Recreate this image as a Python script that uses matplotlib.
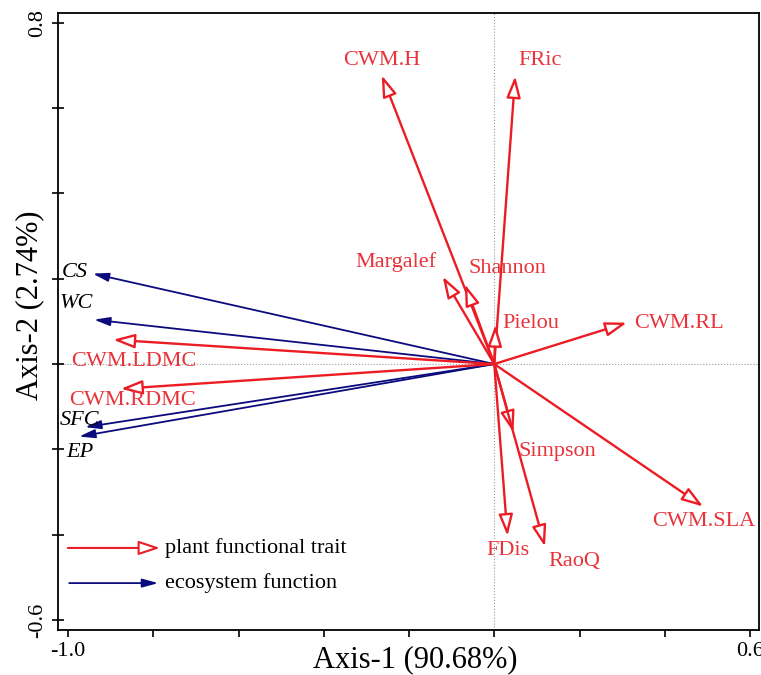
import matplotlib
matplotlib.use("Agg")
import matplotlib.pyplot as plt
import numpy as np

plt.rcParams["font.family"] = ["Liberation Serif", "DejaVu Serif"]

# RDA biplot scores
#-------------------------------------------------------------------
trait_names = ["CWM.H", "FRic", "Margalef", "Shannon", "Pielou", "CWM.RL",
               "CWM.LDMC", "CWM.RDMC", "Simpson", "FDis", "RaoQ", "CWM.SLA"]
trait_x = [-0.264, 0.049, -0.121, -0.069, 0.003, 0.311,
           -0.894, -0.876, 0.045, 0.031, 0.119, 0.490]
trait_y = [0.677, 0.675, 0.205, 0.187, 0.092, 0.097,
           0.057, -0.058, -0.160, -0.403, -0.428, -0.334]

func_names = ["CS", "WC", "SFC", "EP"]
func_x = [-0.942, -0.939, -0.960, -0.974]
func_y = [0.212, 0.104, -0.148, -0.170]

# label placement (data coords)
trait_label_pos = {
    "CWM.H": (-0.264, 0.712), "FRic": (0.107, 0.712), "Margalef": (-0.231, 0.240),
    "Shannon": (0.032, 0.224), "Pielou": (0.086, 0.096), "CWM.RL": (0.433, 0.096),
    "CWM.LDMC": (-0.846, 0.007), "CWM.RDMC": (-0.849, -0.086), "Simpson": (0.149, -0.205),
    "FDis": (0.032, -0.437), "RaoQ": (0.187, -0.463), "CWM.SLA": (0.492, -0.370),
}
func_label_pos = {
    "CS": (-0.984, 0.215), "WC": (-0.981, 0.142), "SFC": (-0.972, -0.133), "EP": (-0.972, -0.207),
}
#-------------------------------------------------------------------

RED = "#ec1c24"
RED_TXT = "#e8333a"
BLUE = "#0b0b7e"

fig = plt.figure(figsize=(7.61, 6.75), dpi=100)
ax = fig.add_axes([58/761, 1-630/675, 701/761, 617/675])

ax.set_xlim(-1.0235, 0.621)
ax.set_ylim(-0.6235, 0.823)

ax.axhline(0, color="#9a9a9a", lw=0.8, ls=":", zorder=0)
ax.axvline(0, color="#9a9a9a", lw=0.8, ls=":", zorder=0)

red_style = "-|>,head_length=13,head_width=4.3"
blue_style = "-|>,head_length=9.5,head_width=2.6"

for x, y in zip(func_x, func_y):
    ax.annotate("", xy=(x, y), xytext=(0, 0),
                arrowprops=dict(arrowstyle=blue_style, mutation_scale=1, color=BLUE,
                                lw=1.3, shrinkA=0, shrinkB=0))

for x, y in zip(trait_x, trait_y):
    ax.annotate("", xy=(x, y), xytext=(0, 0),
                arrowprops=dict(arrowstyle=red_style, mutation_scale=1, fc="white", ec=RED,
                                lw=1.7, shrinkA=0, shrinkB=0))

for name in trait_names:
    lx, ly = trait_label_pos[name]
    ax.text(lx, ly, name, color=RED_TXT, fontsize=16, ha="center", va="center")

for name in func_names:
    lx, ly = func_label_pos[name]
    ax.text(lx, ly, name, color="black", fontsize=16, ha="center", va="center", style="italic")

# legend drawn by hand
ax.annotate("", xy=(0.1455, 0.133), xytext=(0.014, 0.133), xycoords="axes fraction",
            arrowprops=dict(arrowstyle=red_style, mutation_scale=1, fc="white", ec=RED,
                            lw=1.5, shrinkA=0, shrinkB=0))
ax.annotate("", xy=(0.143, 0.076), xytext=(0.016, 0.076), xycoords="axes fraction",
            arrowprops=dict(arrowstyle=blue_style, mutation_scale=1, color=BLUE,
                            lw=1.3, shrinkA=0, shrinkB=0))
ax.text(0.153, 0.133, "plant functional trait", transform=ax.transAxes, fontsize=16, va="center")
ax.text(0.153, 0.076, "ecosystem function", transform=ax.transAxes, fontsize=16, va="center")

xticks = np.round(np.arange(-1.0, 0.61, 0.2), 1)
yticks = np.round(np.arange(-0.6, 0.81, 0.2), 1)
ax.set_xticks(xticks)
ax.set_yticks(yticks)
ax.set_xticklabels(["-1.0"] + [""] * (len(xticks) - 2) + ["0.6"], fontsize=16)
ax.set_yticklabels(["-0.6"] + [""] * (len(yticks) - 2) + ["0.8"], fontsize=16,
                   rotation=90, va="center")
ax.tick_params(axis="x", direction="out", length=5, width=1.2, pad=4)
ax.tick_params(axis="y", direction="inout", length=8, width=1.2, pad=4)
for s in ax.spines.values():
    s.set_linewidth(1.3)

fig.text(415/761, 1-660/675, "Axis-1 (90.68%)", fontsize=22, ha="center", va="center")
fig.text(30/761, 1-305/675, "Axis-2 (2.74%)", fontsize=22, ha="center", va="center", rotation=90)

fig.savefig("out.png", dpi=100)
